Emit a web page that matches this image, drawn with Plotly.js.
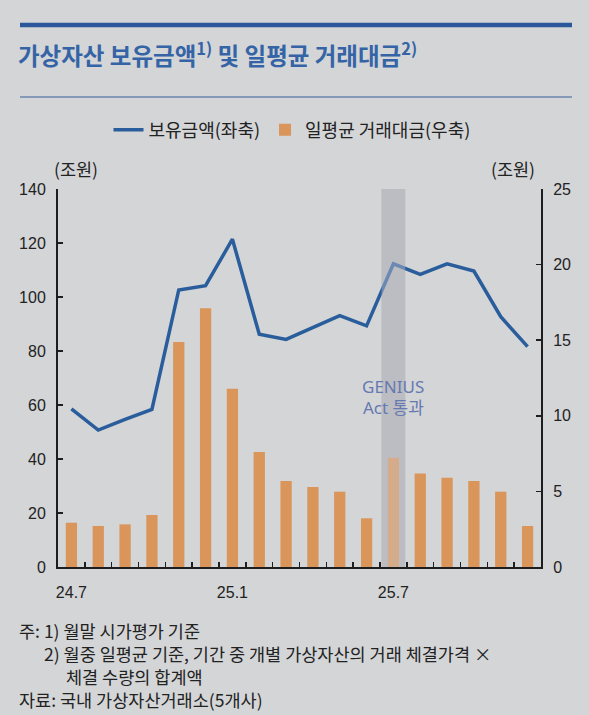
<!DOCTYPE html>
<html>
<head>
<meta charset="utf-8">
<script src="https://cdn.plot.ly/plotly-3.0.1.min.js"></script>
<style>html,body{margin:0;padding:0;background:#d4d5d7;}</style>
</head>
<body>
<div id="chart" style="width:589px;height:715px;"></div>
<script>
const categories = ['24.7','24.8','24.9','24.10','24.11','24.12','25.1','25.2','25.3','25.4','25.5','25.6','25.7','25.8','25.9','25.10','25.11','25.12'];
const holdings = [58.6, 50.7, 54.7, 58.4, 102.6, 104.2, 121.4, 86.2, 84.3, 88.7, 93.1, 89.3, 112.3, 108.4, 112.3, 109.6, 92.7, 81.6];
const tradingValue = [2.93, 2.71, 2.82, 3.44, 14.88, 17.11, 11.79, 7.61, 5.69, 5.29, 4.98, 3.22, 7.23, 6.19, 5.91, 5.69, 4.98, 2.71];
const labeledMonths = ['24.7','25.1','25.7'];
const eventMonth = '25.7';
const seriesNames = ['보유금액(좌축)', '일평균 거래대금(우축)'];
const leftTicks = [0, 20, 40, 60, 80, 100, 120, 140];
const rightTicks = [0, 5, 10, 15, 20, 25];

const W = 589, H = 715;
const L = 58, R = 48, T = 189, B = 148;
const PW = W - L - R, PH = H - T - B;
const px = x => (x - L) / PW;
const py = y => (H - B - y) / PH;

const BG = '#d4d5d7';
const ORANGE = '#d9955a';
const BLUE = '#2a5d9b';
const KFONT = '"Noto Sans CJK KR", "Noto Sans", sans-serif';
const NFONT = '"Liberation Sans Narrow", "Liberation Sans", Arial, sans-serif';

const eventIdx = categories.indexOf(eventMonth);

const traces = [
  {
    type: 'bar', name: seriesNames[1], x: categories, y: tradingValue, yaxis: 'y2',
    marker: {color: ORANGE},
    width: 0.42, legendrank: 2, hoverinfo: 'skip'
  },
  {
    type: 'scatter', mode: 'lines', name: seriesNames[0], x: categories, y: holdings, yaxis: 'y',
    line: {color: BLUE, width: 3.5}, legendrank: 1, hoverinfo: 'skip'
  }
];

const axisCommon = {
  showgrid: false, zeroline: false, showline: true, linecolor: '#1e1e1e', linewidth: 2,
  ticks: 'inside', ticklen: 5, tickwidth: 1.5, tickcolor: '#1e1e1e',
  tickfont: {family: NFONT, size: 16, color: '#222'}
};

const noteFont = {family: KFONT, size: 17.5, color: '#222'};

const layout = {
  width: W, height: H,
  margin: {l: L, r: R, t: T, b: B, pad: 0},
  paper_bgcolor: BG, plot_bgcolor: BG,
  font: {family: KFONT, color: '#222'},
  title: {
    text: '가상자산 보유금액<sup>1)</sup> 및 일평균 거래대금<sup>2)</sup>',
    font: {family: KFONT, size: 23.5, color: '#3564a6', weight: 'bold'},
    xref: 'container', yref: 'container', x: 18 / W, xanchor: 'left', y: 1 - 57 / H, yanchor: 'middle'
  },
  showlegend: true,
  legend: {
    orientation: 'h', x: px(292), xanchor: 'center', y: py(130), yanchor: 'middle',
    bgcolor: 'rgba(0,0,0,0)', font: {family: KFONT, size: 18, color: '#222'},
    traceorder: 'normal'
  },
  bargap: 0.58,
  xaxis: Object.assign({}, axisCommon, {
    type: 'category', range: [-0.5, categories.length - 0.5],
    tickmode: 'array', tickvals: categories,
    ticktext: categories.map(c => labeledMonths.includes(c) ? c : ''),
    tickson: 'boundaries', tickangle: 0, ticklabelstandoff: 10, mirror: false
  }),
  yaxis: Object.assign({}, axisCommon, {
    range: [0, 140], tickmode: 'array', tickvals: leftTicks, ticklabelstandoff: 7
  }),
  yaxis2: Object.assign({}, axisCommon, {
    range: [0, 25], tickmode: 'array', tickvals: rightTicks, overlaying: 'y', side: 'right', ticklabelstandoff: 7
  }),
  shapes: [
    {type: 'line', xref: 'paper', yref: 'paper', x0: px(20), x1: px(572), y0: py(25), y1: py(25), line: {color: '#2b589b', width: 4.5}},
    {type: 'line', xref: 'paper', yref: 'paper', x0: px(20), x1: px(572), y0: py(97), y1: py(97), line: {color: '#3b5f9e', width: 1.2}},
    {type: 'rect', xref: 'x', yref: 'paper', x0: eventIdx - 0.44, x1: eventIdx + 0.44, y0: 0, y1: 1,
     fillcolor: '#b1b3b6', line: {width: 0}, layer: 'below'},
    {type: 'rect', xref: 'x', yref: 'paper', x0: eventIdx - 0.44, x1: eventIdx + 0.44, y0: 0, y1: 1,
     fillcolor: 'rgba(205,206,212,0.4)', line: {width: 0}, layer: 'above'}
  ],
  annotations: [
    {text: '(조원)', xref: 'paper', yref: 'paper', x: px(76), y: py(168), xanchor: 'center', yanchor: 'middle', showarrow: false, font: {family: KFONT, size: 17.5, color: '#222'}},
    {text: '(조원)', xref: 'paper', yref: 'paper', x: px(513), y: py(168), xanchor: 'center', yanchor: 'middle', showarrow: false, font: {family: KFONT, size: 17.5, color: '#222'}},
    {text: 'GENIUS', xref: 'x', yref: 'paper', x: eventIdx, y: py(386), xanchor: 'center', yanchor: 'middle', showarrow: false, font: {family: '"Noto Sans", "Open Sans", sans-serif', size: 17, color: '#6679b0'}},
    {text: 'Act 통과', xref: 'x', yref: 'paper', x: eventIdx, y: py(407), xanchor: 'center', yanchor: 'middle', showarrow: false, font: {family: '"Noto Sans", "Noto Sans CJK KR", sans-serif', size: 17, color: '#6679b0'}},
    {text: '주: 1) 월말 시가평가 기준', xref: 'paper', yref: 'paper', x: px(17), y: py(630), xanchor: 'left', yanchor: 'middle', showarrow: false, font: noteFont},
    {text: '2) 월중 일평균 기준, 기간 중 개별 가상자산의 거래 체결가격 ×', xref: 'paper', yref: 'paper', x: px(42), y: py(653), xanchor: 'left', yanchor: 'middle', showarrow: false, font: noteFont},
    {text: '체결 수량의 합계액', xref: 'paper', yref: 'paper', x: px(64), y: py(676), xanchor: 'left', yanchor: 'middle', showarrow: false, font: noteFont},
    {text: '자료: 국내 가상자산거래소(5개사)', xref: 'paper', yref: 'paper', x: px(17), y: py(699), xanchor: 'left', yanchor: 'middle', showarrow: false, font: noteFont}
  ]
};

Plotly.newPlot('chart', traces, layout, {staticPlot: true, displayModeBar: false});
</script>
</body>
</html>
